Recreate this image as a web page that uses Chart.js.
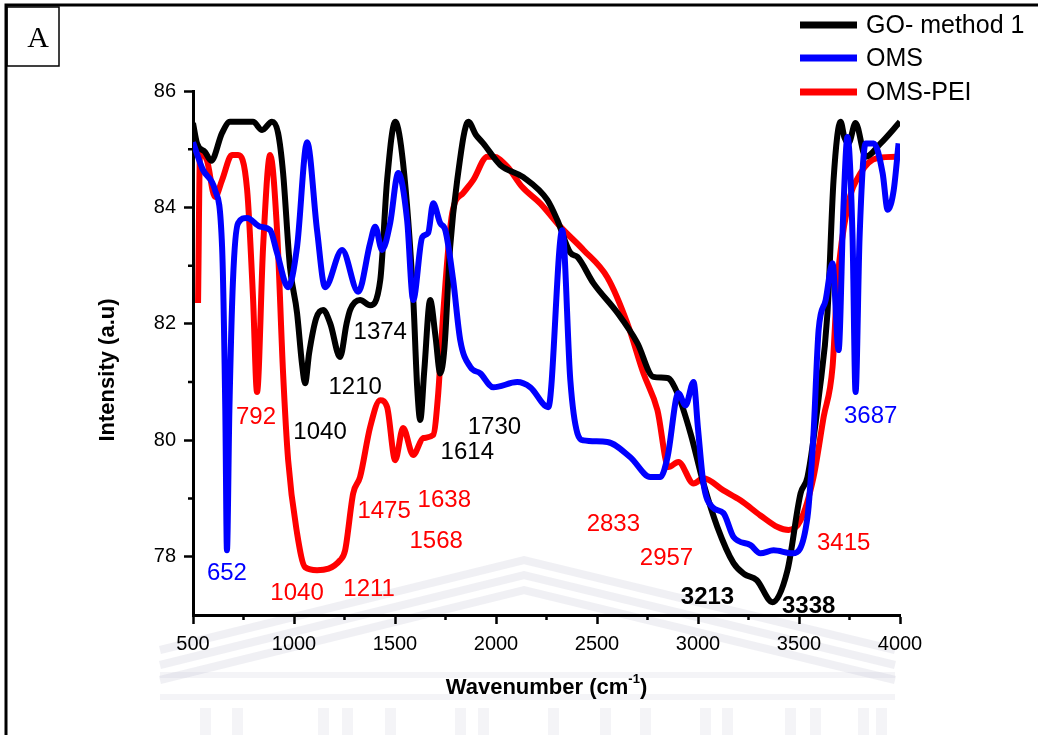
<!DOCTYPE html>
<html><head>
<meta charset="utf-8">
<title>FTIR</title>
<script src="https://cdn.jsdelivr.net/npm/chart.js"></script>
<style>
body { margin: 0; background: #fff; }
#wrap { position: relative; width: 1038px; height: 735px; }
</style>
</head>
<body>
<div id="wrap"><canvas id="ftir"></canvas></div>
<script>
// wavenumber / intensity
var goX = [500, 520, 560, 590, 644, 683, 797, 842, 891, 921, 946, 980, 1015, 1040, 1055, 1075, 1110, 1144, 1180, 1228, 1260, 1278, 1327, 1377, 1427, 1461, 1501, 1540, 1590, 1610, 1625, 1645, 1674, 1700, 1724, 1745, 1773, 1808, 1863, 1900, 1937, 2021, 2135, 2254, 2304, 2368, 2403, 2482, 2601, 2700, 2779, 2849, 2898, 2963, 3027, 3096, 3176, 3230, 3290, 3369, 3443, 3508, 3542, 3600, 3641, 3671, 3706, 3725, 3745, 3780, 3830, 3904, 4000];
var goY = [85.45, 85.1, 84.95, 84.8, 85.28, 85.47, 85.47, 85.33, 85.47, 85.28, 84.59, 82.98, 82.19, 81.3, 80.98, 81.5, 82.1, 82.24, 82.0, 81.43, 82.0, 82.24, 82.41, 82.32, 82.75, 84.47, 85.47, 84.76, 82.46, 80.9, 80.35, 81.2, 82.41, 81.8, 81.15, 81.6, 83.32, 84.47, 85.47, 85.25, 85.1, 84.73, 84.52, 84.13, 83.78, 83.22, 83.15, 82.7, 82.19, 81.67, 81.09, 81.07, 80.81, 80.12, 79.26, 78.51, 77.89, 77.7, 77.6, 77.22, 77.77, 79.09, 79.37, 80.8, 82.19, 84.47, 85.47, 85.2, 85.1, 85.45, 84.87, 85.1, 85.47];

var omsX = [500, 550, 609, 644, 660, 668, 680, 698, 723, 768, 832, 882, 916, 971, 1015, 1065, 1114, 1154, 1238, 1318, 1377, 1402, 1436, 1476, 1516, 1560, 1590, 1635, 1664, 1689, 1724, 1749, 1788, 1823, 1873, 1922, 1987, 2105, 2170, 2259, 2328, 2368, 2403, 2433, 2551, 2665, 2764, 2814, 2849, 2903, 2938, 2978, 3000, 3027, 3072, 3126, 3176, 3260, 3309, 3374, 3468, 3542, 3572, 3597, 3632, 3666, 3696, 3720, 3740, 3765, 3780, 3800, 3830, 3870, 3914, 3939, 3969, 3993];
var omsY = [85.12, 84.64, 84.3, 83.32, 80.5, 78.11, 80.5, 82.75, 83.73, 83.82, 83.67, 83.61, 83.22, 82.63, 83.32, 85.12, 83.61, 82.63, 83.27, 82.55, 83.39, 83.67, 83.27, 83.73, 84.59, 83.78, 82.41, 83.49, 83.56, 84.07, 83.73, 83.61, 82.75, 81.72, 81.26, 81.15, 80.91, 81.0, 80.91, 80.57, 83.61, 81.03, 80.12, 80.0, 79.97, 79.71, 79.37, 79.37, 79.71, 80.81, 80.6, 81.0, 80.2, 79.26, 78.85, 78.75, 78.34, 78.2, 78.06, 78.11, 78.06, 78.68, 80.12, 81.89, 82.41, 83.04, 81.55, 84.0, 85.21, 83.5, 80.83, 83.5, 85.1, 85.1, 84.59, 83.96, 84.3, 85.1];

var peiX = [525, 535, 569, 609, 644, 693, 723, 768, 797, 817, 847, 882, 916, 946, 971, 1015, 1055, 1114, 1228, 1253, 1293, 1327, 1377, 1427, 1461, 1501, 1540, 1590, 1640, 1689, 1714, 1739, 1783, 1838, 1887, 1957, 1990, 2056, 2130, 2219, 2318, 2433, 2551, 2650, 2730, 2799, 2854, 2903, 2978, 3027, 3126, 3210, 3309, 3394, 3448, 3508, 3572, 3622, 3666, 3691, 3740, 3805, 3889, 4000];
var peiY = [82.36, 84.95, 84.81, 84.18, 84.47, 84.9, 84.9, 84.3, 82.46, 80.83, 83.32, 84.9, 83.61, 81.15, 79.66, 78.41, 77.82, 77.77, 77.94, 78.11, 79.09, 79.37, 80.23, 80.69, 80.57, 79.66, 80.21, 79.75, 80.04, 80.09, 80.81, 82.19, 83.9, 84.25, 84.47, 84.87, 84.87, 84.7, 84.35, 84.07, 83.67, 83.27, 82.8, 82.01, 81.15, 80.52, 79.54, 79.63, 79.26, 79.35, 79.14, 78.97, 78.71, 78.51, 78.46, 78.63, 79.37, 80.4, 81.26, 82.75, 84.0, 84.59, 84.85, 84.87];

var seriesNames = ['GO- method 1', 'OMS', 'OMS-PEI'];
var seriesColors = ['#000000', '#0000ff', '#ff0000'];

var xTicks = [500, 1000, 1500, 2000, 2500, 3000, 3500, 4000];
var yTicks = [78, 80, 82, 84, 86];
var xMinor = [750, 1250, 1750, 2250, 2750, 3250, 3750];
var yMinor = [79, 81, 83, 85];

var xTitle = 'Wavenumber (cm';
var xTitleSup = '-1';
var yTitle = 'Intensity (a.u)';

// peak labels
var peakText  = ['1374', '1210', '1040', '792', '652', '1040', '1211', '1475', '1638', '1568', '1614', '1730', '2833', '2957', '3213', '3338', '3415', '3687'];
var peakX     = [1427, 1303, 1129, 812, 668, 1015, 1372, 1446, 1744, 1704, 1858, 1992, 2581, 2844, 3047, 3548, 3721, 3855];
var peakY     = [81.86, 80.91, 80.14, 80.40, 77.72, 77.37, 77.44, 78.78, 78.97, 78.27, 79.80, 80.23, 78.56, 77.98, 77.31, 77.15, 78.23, 80.42];
var peakColor = ['#000', '#000', '#000', '#f00', '#00f', '#f00', '#f00', '#f00', '#f00', '#f00', '#000', '#000', '#f00', '#f00', '#000', '#000', '#f00', '#00f'];
var peakBold  = [false, false, false, false, false, false, false, false, false, false, false, false, false, false, true, true, false, false];

function points(xs, ys) {
    var out = [];
    for (var i = 0; i < xs.length; i++) {
        out.push({x: xs[i], y: ys[i]});
    }
    return out;
}

var FONT = "'Liberation Sans', Arial, sans-serif";

// faint logo in the background of the scanned page
var watermark = {
    id: 'watermark',
    beforeDraw: function(chart) {
        var ctx = chart.ctx;
        ctx.save();
        ctx.strokeStyle = 'rgba(160,160,185,0.16)';
        ctx.lineWidth = 8;
        for (var k = 0; k < 3; k++) {
            var d = k * 15;
            ctx.beginPath();
            ctx.moveTo(160, 650 + d);
            ctx.lineTo(524, 560 + d);
            ctx.lineTo(895, 650 + d);
            ctx.stroke();
        }
        ctx.fillStyle = 'rgba(170,170,195,0.13)';
        ctx.fillRect(160, 672, 735, 6);
        ctx.fillRect(160, 694, 735, 6);
        var cols = [200, 232, 318, 342, 385, 455, 478, 548, 600, 640, 700, 722, 785, 810, 858, 876];
        for (var i = 0; i < cols.length; i++) {
            ctx.fillRect(cols[i], 708, 11, 27);
        }
        ctx.restore();
    }
};

var decorations = {
    id: 'decorations',
    afterDatasetsDraw: function(chart) {
        var ctx = chart.ctx;
        var xs = chart.scales.x, ys = chart.scales.y;
        var area = chart.chartArea;
        ctx.save();
        // minor ticks
        ctx.strokeStyle = '#000';
        ctx.lineWidth = 2.5;
        ctx.beginPath();
        xMinor.forEach(function(v) {
            var px = xs.getPixelForValue(v);
            ctx.moveTo(px, area.bottom);
            ctx.lineTo(px, area.bottom + 5);
        });
        yMinor.forEach(function(v) {
            var py = ys.getPixelForValue(v);
            ctx.moveTo(area.left, py);
            ctx.lineTo(area.left - 5, py);
        });
        ctx.stroke();

        // axis titles
        ctx.fillStyle = '#000';
        ctx.textBaseline = 'middle';
        ctx.font = 'bold 22px ' + FONT;
        var mainW = ctx.measureText(xTitle).width;
        ctx.font = 'bold 13px ' + FONT;
        var supW = ctx.measureText(xTitleSup).width;
        ctx.font = 'bold 22px ' + FONT;
        var parW = ctx.measureText(')').width;
        var x0 = (area.left + area.right) / 2 - (mainW + supW + parW) / 2;
        ctx.textAlign = 'left';
        ctx.fillText(xTitle, x0, 688);
        ctx.fillText(')', x0 + mainW + supW, 688);
        ctx.font = 'bold 13px ' + FONT;
        ctx.fillText(xTitleSup, x0 + mainW, 679);

        ctx.save();
        ctx.translate(108, 370);
        ctx.rotate(-Math.PI / 2);
        ctx.textAlign = 'center';
        ctx.font = 'bold 22px ' + FONT;
        ctx.fillText(yTitle, 0, 0);
        ctx.restore();

        // peak labels
        ctx.textAlign = 'center';
        for (var i = 0; i < peakText.length; i++) {
            ctx.font = (peakBold[i] ? 'bold ' : '') + '24px ' + FONT;
            ctx.fillStyle = peakColor[i];
            ctx.fillText(peakText[i], xs.getPixelForValue(peakX[i]), ys.getPixelForValue(peakY[i]));
        }

        // legend
        ctx.textAlign = 'left';
        ctx.font = '25px ' + FONT;
        var rows = [25, 58, 92];
        chart.data.datasets.forEach(function(ds, i) {
            ctx.strokeStyle = ds.borderColor;
            ctx.lineWidth = 7;
            ctx.beginPath();
            ctx.moveTo(800, rows[i]);
            ctx.lineTo(857, rows[i]);
            ctx.stroke();
            ctx.fillStyle = '#000';
            ctx.fillText(ds.label, 866, rows[i] + 1);
        });

        // outer frame and panel letter
        ctx.strokeStyle = '#000';
        ctx.lineWidth = 3;
        ctx.beginPath();
        ctx.moveTo(6, 735);
        ctx.lineTo(6, 5);
        ctx.lineTo(1038, 5);
        ctx.stroke();
        ctx.lineWidth = 1.5;
        ctx.strokeRect(7, 7, 52, 59);
        ctx.fillStyle = '#000';
        ctx.font = "30px 'Liberation Serif', 'Times New Roman', serif";
        ctx.textAlign = 'center';
        ctx.fillText('A', 38, 39);
        ctx.restore();
    }
};

var datasets = [
    {label: seriesNames[0], data: points(goX, goY)},
    {label: seriesNames[1], data: points(omsX, omsY)},
    {label: seriesNames[2], data: points(peiX, peiY)}
].map(function(ds, i) {
    ds.borderColor = seriesColors[i];
    ds.backgroundColor = seriesColors[i];
    ds.borderWidth = 6;
    ds.pointRadius = 0;
    ds.showLine = true;
    ds.cubicInterpolationMode = 'monotone';
    return ds;
});
datasets[0].order = 2;
datasets[1].order = 1;
datasets[2].order = 3;

new Chart(document.getElementById('ftir'), {
    type: 'scatter',
    data: {datasets: datasets},
    options: {
        responsive: true,
        maintainAspectRatio: false,
        animation: false,
        layout: {padding: {left: 95, right: 138, top: 91, bottom: 0}},
        plugins: {legend: {display: false}, tooltip: {enabled: false}},
        scales: {
            x: {
                type: 'linear',
                min: 500,
                max: 4000,
                afterBuildTicks: function(scale) { scale.ticks = xTicks.map(function(v) { return {value: v}; }); },
                afterFit: function(scale) { scale.height = 120; },
                border: {display: true, color: '#000', width: 3},
                grid: {drawOnChartArea: false, tickLength: 9, tickWidth: 2.5, tickColor: '#000'},
                ticks: {color: '#000', padding: 8, maxRotation: 0, font: {family: FONT, size: 20},
                        callback: function(v) { return String(v); }},
                title: {display: false}
            },
            y: {
                min: 77,
                max: 86,
                afterBuildTicks: function(scale) { scale.ticks = yTicks.map(function(v) { return {value: v}; }); },
                afterFit: function(scale) { scale.width = 98; },
                border: {display: true, color: '#000', width: 3},
                grid: {drawOnChartArea: false, tickLength: 9, tickWidth: 2.5, tickColor: '#000'},
                ticks: {color: '#000', padding: 8, font: {family: FONT, size: 20},
                        callback: function(v) { return String(v); }},
                title: {display: false}
            }
        }
    },
    plugins: [watermark, decorations]
});
</script>
</body></html>
